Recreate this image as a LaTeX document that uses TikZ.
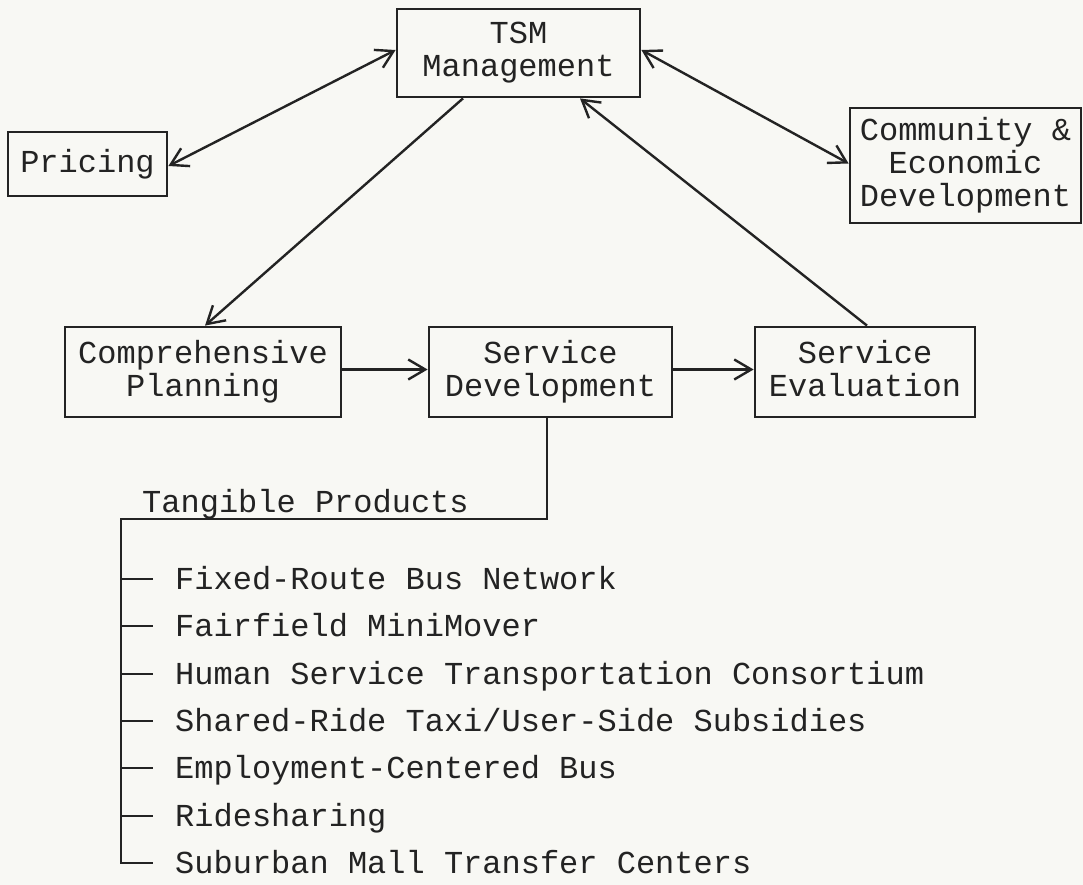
\documentclass[tikz,border=0pt]{standalone}
\usepackage{fontspec}
\newfontfamily\courfont{Liberation Mono}
\usetikzlibrary{arrows.meta}
\definecolor{ink}{RGB}{35,35,35}
\definecolor{paper}{RGB}{248,248,244}
\begin{document}
\begin{tikzpicture}[x=1pt,y=-1pt,
  every node/.style={font=\courfont\fontsize{32}{33}\selectfont, text=ink},
  box/.style={draw=ink, line width=2.8pt, align=center, inner sep=0pt},
  conn/.style={draw=ink, line width=2.4pt},
  >={Straight Barb[length=17pt,width=20pt]},
  item/.style={anchor=west, inner sep=0pt, text height=21pt, text depth=0pt}]
\fill[paper] (0,0) rectangle (1083,885);
\useasboundingbox (0,0) rectangle (1083,885);

\node[box, minimum width=243pt, minimum height=88pt] (tsm) at (518.5,53) {TSM\\Management};
\node[box, minimum width=159pt, minimum height=64pt] (pricing) at (87.5,164) {Pricing};
\node[box, minimum width=231pt, minimum height=115pt] (comm) at (965.5,165.5) {Community \&\\Economic\\Development};
\node[box, minimum width=276pt, minimum height=90pt] (comp) at (203,372) {Comprehensive\\Planning};
\node[box, minimum width=243pt, minimum height=90pt] (sd) at (550.5,372) {Service\\Development};
\node[box, minimum width=220pt, minimum height=90pt] (se) at (865,372) {Service\\Evaluation\vphantom{p}};

\node[anchor=base west, inner sep=0pt] (tp) at (142,512) {Tangible Products};

\coordinate (tr) at (547,519);
\coordinate (tl) at (121,519);
\coordinate (bl) at (121,863);

\node[item] (i1) at (175,579) {Fixed-Route Bus Network};
\node[item] (i2) at (175,626) {Fairfield MiniMover};
\node[item] (i3) at (175,674) {Human Service Transportation Consortium};
\node[item] (i4) at (175,721) {Shared-Ride Taxi/User-Side Subsidies};
\node[item] (i5) at (175,768) {Employment-Centered Bus};
\node[item] (i6) at (175,816) {Ridesharing};
\node[item] (i7) at (175,863) {Suburban Mall Transfer Centers};

\draw[conn,<->] ([yshift=3pt]tsm.west) -- ([yshift=-2pt]pricing.east);
\draw[conn,<->] ([yshift=3pt]tsm.east) -- ([yshift=2pt]comm.west);
\draw[conn,->] ([xshift=-55.5pt]tsm.south) -- ([xshift=2pt]comp.north);
\draw[conn,->] ([xshift=2pt]se.north) -- ([xshift=61.5pt]tsm.south);
\draw[conn,->] ([yshift=2.5pt]comp.east) -- ([yshift=2.5pt]sd.west);
\draw[conn,->] ([yshift=2.5pt]sd.east) -- ([yshift=2.5pt]se.west);

\draw[conn] ([xshift=-3.5pt]sd.south) -- (tr) -- (tl) -- (bl) -- ([xshift=-22pt]i7.west);
\foreach \i in {1,...,6}{
  \draw[conn] (tl |- i\i.west) -- ([xshift=-22pt]i\i.west);
}
\end{tikzpicture}
\end{document}
